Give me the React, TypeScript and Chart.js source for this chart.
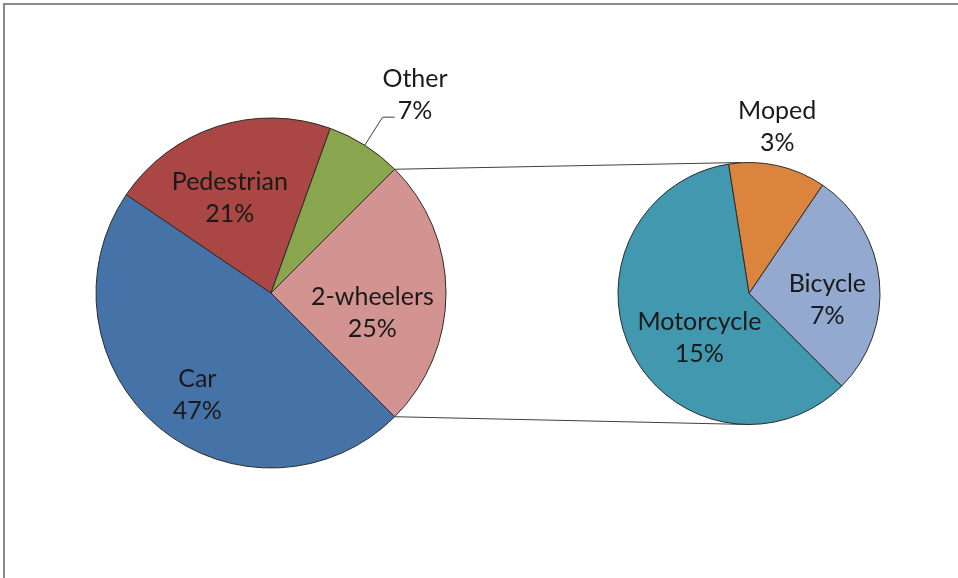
import React, { useEffect, useRef } from "react";
import { Chart, registerables } from "chart.js";

Chart.register(...registerables);

// ---- data ----
const mainCategories = ["Car", "Pedestrian", "Other", "2-wheelers"];
const mainValues = [47, 21, 7, 25];
const subCategories = ["Moped", "Bicycle", "Motorcycle"];
const subValues = [3, 7, 15];

// ---- styles ----
const mainColors = ["#4572A7", "#AA4643", "#89A54E", "#D39391"];
const subColors = ["#DB843D", "#93A9CF", "#4198AF"];
// label placement: radial fraction of radius, angle offset (deg) from slice middle
const mainLabelFrac = [0.72, 0.59, 1.4, 0.59];
const mainLabelAngOff = [-3.8, -5.5, 3.6, 10.9];
const mainLabelLeader = [false, false, true, false];
const subLabelFrac = [1.29, 0.6, 0.51];
const subLabelAngOff = [-3, 9.8, -15];
const subLabelLeader = [false, false, false];

const W = 958;
const H = 578;
const FONT = "Lato, 'Open Sans', sans-serif";
const FONT_SIZE = 25;
const LINE_H = 32;
const TEXT_COLOR = "#1a1a1a";

function labelPlugin(id: string, cats: string[], vals: number[], fracs: number[], offs: number[], leaders: boolean[]) {
  return {
    id,
    afterDatasetsDraw(chart: any) {
      const ctx = chart.ctx;
      const meta = chart.getDatasetMeta(0);
      ctx.save();
      ctx.font = `${FONT_SIZE}px ${FONT}`;
      ctx.fillStyle = TEXT_COLOR;
      ctx.textAlign = "center";
      ctx.textBaseline = "middle";
      meta.data.forEach((arc: any, i: number) => {
        const p = arc.getProps(["x", "y", "startAngle", "endAngle", "outerRadius"], true);
        const mid = (p.startAngle + p.endAngle) / 2;
        const a = mid + (offs[i] * Math.PI) / 180;
        const r = p.outerRadius * fracs[i];
        const cx = p.x + Math.cos(a) * r;
        const cy = p.y + Math.sin(a) * r;
        if (leaders[i]) {
          const sx = p.x + Math.cos(mid) * p.outerRadius;
          const sy = p.y + Math.sin(mid) * p.outerRadius;
          const ex = p.x + Math.cos(mid) * p.outerRadius * 1.19;
          const ey = p.y + Math.sin(mid) * p.outerRadius * 1.19;
          ctx.strokeStyle = "#404040";
          ctx.lineWidth = 1;
          ctx.beginPath();
          ctx.moveTo(sx, sy);
          ctx.lineTo(ex, ey);
          ctx.lineTo(ex + 12, ey);
          ctx.stroke();
        }
        ctx.fillText(cats[i], cx, cy - LINE_H / 2);
        ctx.fillText(`${vals[i]}%`, cx, cy + LINE_H / 2);
      });
      ctx.restore();
    },
  };
}

export default function App() {
  const mainRef = useRef<HTMLCanvasElement>(null);
  const subRef = useRef<HTMLCanvasElement>(null);

  useEffect(() => {
    document.body.style.margin = "0";
    const mainChart = new Chart(mainRef.current!, {
      type: "pie",
      data: {
        labels: mainCategories,
        datasets: [
          {
            data: mainValues,
            backgroundColor: mainColors,
            borderColor: "#2b2b2b",
            borderWidth: 1,
            hoverOffset: 0,
          },
        ],
      },
      options: {
        animation: false,
        responsive: false,
        rotation: 135,
        radius: 175,
        layout: { padding: { left: 0, right: W - 542, top: 8, bottom: 0 } },
        plugins: { legend: { display: false }, tooltip: { enabled: false } },
        events: [],
      },
      plugins: [labelPlugin("mainLabels", mainCategories, mainValues, mainLabelFrac, mainLabelAngOff, mainLabelLeader)],
    });

    const connector = {
      id: "connector",
      beforeDatasetsDraw(chart: any) {
        const mMeta = mainChart.getDatasetMeta(0);
        const splitArc: any = mMeta.data[mainCategories.indexOf("2-wheelers")];
        const sp = splitArc.getProps(["x", "y", "startAngle", "endAngle", "outerRadius"], true);
        const sArc: any = chart.getDatasetMeta(0).data[0];
        const q = sArc.getProps(["x", "y", "outerRadius"], true);
        const ctx = chart.ctx;
        ctx.save();
        ctx.strokeStyle = "#404040";
        ctx.lineWidth = 1;
        ctx.beginPath();
        ctx.moveTo(sp.x + Math.cos(sp.startAngle) * sp.outerRadius, sp.y + Math.sin(sp.startAngle) * sp.outerRadius);
        ctx.lineTo(q.x - 8, q.y - q.outerRadius);
        ctx.moveTo(sp.x + Math.cos(sp.endAngle) * sp.outerRadius, sp.y + Math.sin(sp.endAngle) * sp.outerRadius);
        ctx.lineTo(q.x, q.y + q.outerRadius);
        ctx.stroke();
        ctx.restore();
      },
    };

    const subChart = new Chart(subRef.current!, {
      type: "pie",
      data: {
        labels: subCategories,
        datasets: [
          {
            data: subValues,
            backgroundColor: subColors,
            borderColor: "#2b2b2b",
            borderWidth: 1,
            hoverOffset: 0,
          },
        ],
      },
      options: {
        animation: false,
        responsive: false,
        rotation: -9,
        radius: 131,
        layout: { padding: { left: 540, right: 0, top: 9, bottom: 0 } },
        plugins: { legend: { display: false }, tooltip: { enabled: false } },
        events: [],
      },
      plugins: [connector, labelPlugin("subLabels", subCategories, subValues, subLabelFrac, subLabelAngOff, subLabelLeader)],
    });

    return () => {
      subChart.destroy();
      mainChart.destroy();
    };
  }, []);

  return (
    <div style={{ position: "fixed", left: 0, top: 0, width: W, height: H, background: "#fff", overflow: "hidden" }}>
      <div
        style={{
          position: "absolute",
          left: 3,
          top: 3,
          width: W,
          height: H,
          borderTop: "2px solid #8a8a8a",
          borderLeft: "2px solid #8a8a8a",
        }}
      />
      <canvas ref={mainRef} width={W} height={H} style={{ position: "absolute", left: 0, top: 0 }} />
      <canvas ref={subRef} width={W} height={H} style={{ position: "absolute", left: 0, top: 0 }} />
    </div>
  );
}
